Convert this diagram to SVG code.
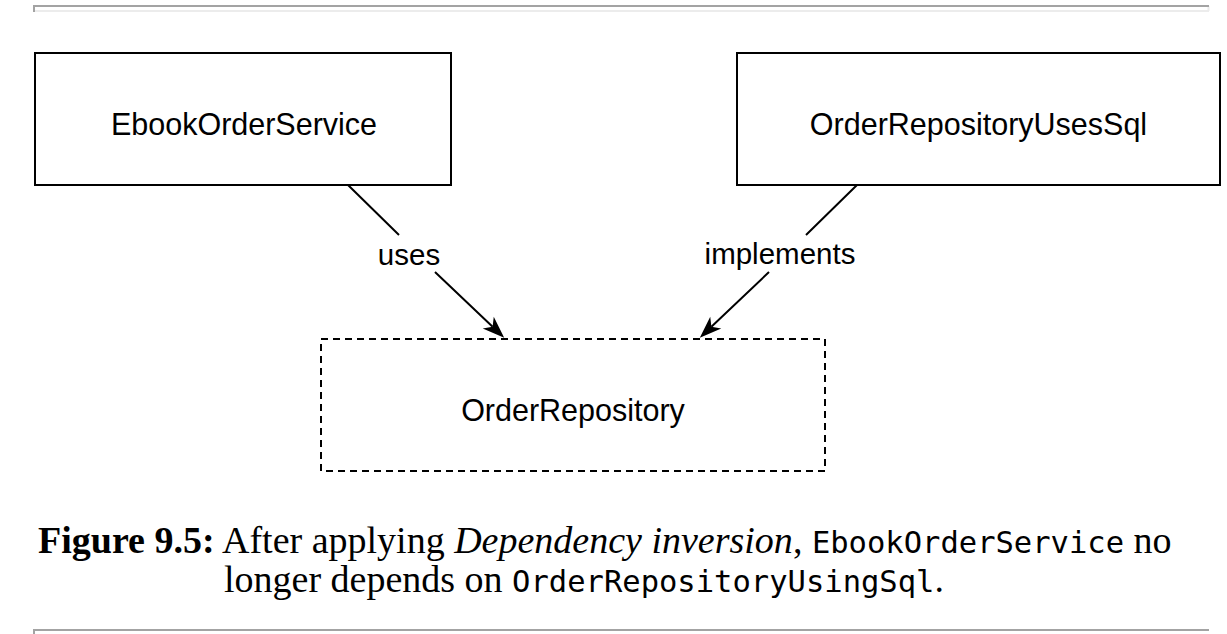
<svg xmlns="http://www.w3.org/2000/svg" width="1227" height="634" viewBox="0 0 1227 634">
  <style>
    .box { fill: #ffffff; stroke: #000000; stroke-width: 2; }
    .dbox { fill: #ffffff; stroke: #000000; stroke-width: 2; stroke-dasharray: 7 5; }
    .lbl { font-family: "Liberation Sans", Arial, sans-serif; font-size: 30.5px; fill: #000000; text-anchor: middle; }
    .elbl { font-family: "Liberation Sans", Arial, sans-serif; font-size: 29.5px; fill: #000000; text-anchor: middle; }
    .edge { fill: none; stroke: #000000; stroke-width: 2; }
    .cap { font-family: "Liberation Serif", "Times New Roman", serif; font-size: 38px; fill: #000000; }
    .mono { font-family: "DejaVu Sans Mono", "Liberation Mono", monospace; font-size: 30.5px; }
    .ruleDark { stroke: #a3a3a3; stroke-width: 2; fill: none; }
    .ruleLight { stroke: #ececec; stroke-width: 2; fill: none; }
  </style>
  <defs>
    <marker id="arrow" markerUnits="userSpaceOnUse" markerWidth="24" markerHeight="20" viewBox="0 0 24 20" refX="7" refY="10" orient="auto">
      <path d="M1,2 L23,10 L1,18 L7,10 z" fill="#000000"/>
    </marker>
  </defs>

  <g id="rules">
    <path class="ruleLight" d="M34,11 H1209 M1208.5,6 V11"/>
    <path class="ruleDark" d="M33,6 H1209 M34,5 V12"/>
    <path class="ruleDark" d="M33,630 H1209 M34,629 V634"/>
  </g>

  <g id="connectors">
    <path class="edge" d="M348,185 L399,235 M435,272 L492.6,326.8" marker-end="url(#arrow)"/>
    <path class="edge" d="M857,185 L806,235 M769,272 L711.4,326.8" marker-end="url(#arrow)"/>
    <text class="elbl" x="409" y="265">uses</text>
    <text class="elbl" x="780" y="264">implements</text>
  </g>

  <g id="node-ebook">
    <rect class="box" x="35" y="53" width="416" height="132"/>
    <text class="lbl" x="244" y="135">EbookOrderService</text>
  </g>

  <g id="node-sql">
    <rect class="box" x="737" y="53" width="483" height="132"/>
    <text class="lbl" x="978.5" y="135">OrderRepositoryUsesSql</text>
  </g>

  <g id="node-repo">
    <rect class="dbox" x="321" y="339" width="504" height="132"/>
    <text class="lbl" x="573" y="421">OrderRepository</text>
  </g>

  <g id="caption">
    <text class="cap" x="38" y="553"><tspan font-weight="bold">Figure 9.5:</tspan> After applying <tspan font-style="italic">Dependency inversion</tspan>, <tspan class="mono">EbookOrderService</tspan> no</text>
    <text class="cap" x="224" y="592">longer depends on <tspan class="mono">OrderRepositoryUsingSql</tspan>.</text>
  </g>
</svg>
